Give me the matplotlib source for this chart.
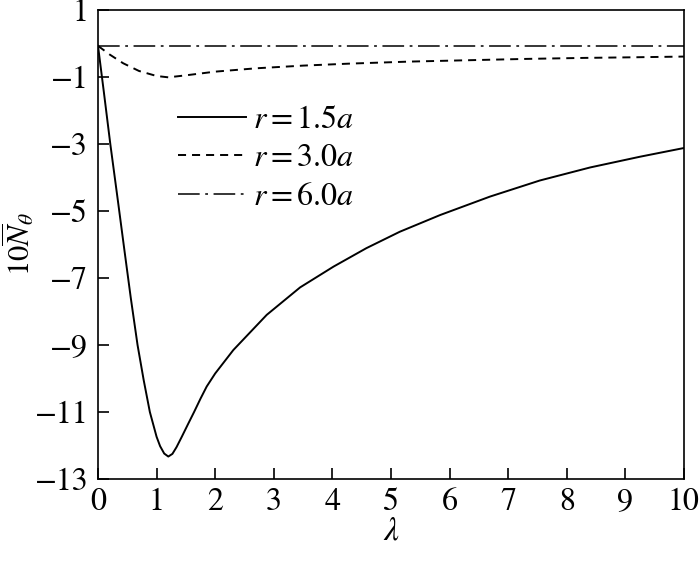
import matplotlib
matplotlib.use("Agg")
import matplotlib.pyplot as plt

plt.rcParams["font.family"] = "STIXGeneral"
plt.rcParams["mathtext.fontset"] = "stix"
plt.rcParams["lines.scale_dashes"] = False

# values
lam_15 = [0.0, 0.1, 0.21, 0.34, 0.45, 0.56, 0.675, 0.78, 0.885, 1.0, 1.06, 1.13, 1.2,
          1.27, 1.34, 1.43, 1.54, 1.64, 1.75, 1.855, 2.0, 2.31, 2.88, 3.45, 4.02, 4.58,
          5.15, 5.84, 6.69, 7.54, 8.4, 9.25, 10.0]
n_15 = [-0.07, -1.45, -3.0, -4.7, -6.16, -7.6, -9.0, -10.05, -11.0, -11.74, -12.02, -12.24, -12.33,
        -12.25, -12.05, -11.74, -11.35, -11.0, -10.6, -10.24, -9.85, -9.15, -8.1, -7.28, -6.66, -6.11,
        -5.62, -5.12, -4.57, -4.09, -3.7, -3.38, -3.12]

lam_30 = [0.0, 0.2, 0.43, 0.7, 1.0, 1.2, 1.5, 2.0, 2.7, 3.5, 4.3, 5.32, 6.3, 7.3, 8.3, 9.2, 10.0]
n_30 = [-0.07, -0.33, -0.59, -0.82, -0.97, -1.01, -0.95, -0.84, -0.74, -0.66, -0.6, -0.54,
        -0.5, -0.46, -0.43, -0.41, -0.39]

lam_60 = [0.0, 10.0]
n_60 = [-0.07, -0.07]

labels = [r"$r=1.5a$", r"$r=3.0a$", r"$r=6.0a$"]
xticks = list(range(0, 11))
yticks = [-13, -11, -9, -7, -5, -3, -1, 1]

fig = plt.figure(figsize=(7, 5.62), dpi=100)
ax = fig.add_axes([0.14, 0.1477, 0.837, 0.8345])

ax.plot(lam_15, n_15, color="black", lw=1.4, label=labels[0])
ax.plot(lam_30, n_30, color="black", lw=1.4, dashes=(5.8, 4.3), label=labels[1])
ax.plot(lam_60, n_60, color="black", lw=1.1, dashes=(15.6, 4.0, 2.0, 4.0), label=labels[2])

ax.set_xlim(0, 10)
ax.set_ylim(-13, 1)
ax.set_xticks(xticks)
ax.set_yticks(yticks)
ax.set_yticklabels([str(v).replace("-", "\u2212") for v in yticks])
ax.tick_params(axis="both", which="major", direction="in", length=8, width=1.2,
               color="black", labelsize=23, left=True, bottom=True, top=False, right=False)
ax.tick_params(axis="y", pad=7)
ax.tick_params(axis="x", pad=6)
for s in ax.spines.values():
    s.set_linewidth(1.2)

ax.set_xlabel(r"$\lambda$", fontsize=24, labelpad=0)
ax.set_ylabel(r"$10\overline{N}_\theta$", fontsize=22)
ax.yaxis.set_label_coords(-0.104, 0.5)

# legend without frame, inside the upper left part of the axes
ax.legend(loc="upper left", bbox_to_anchor=(0.11, 0.83), frameon=False, fontsize=23,
          handlelength=2.1, handletextpad=0.25, labelspacing=0.28, borderpad=0)

fig.savefig("out.png", dpi=100)
